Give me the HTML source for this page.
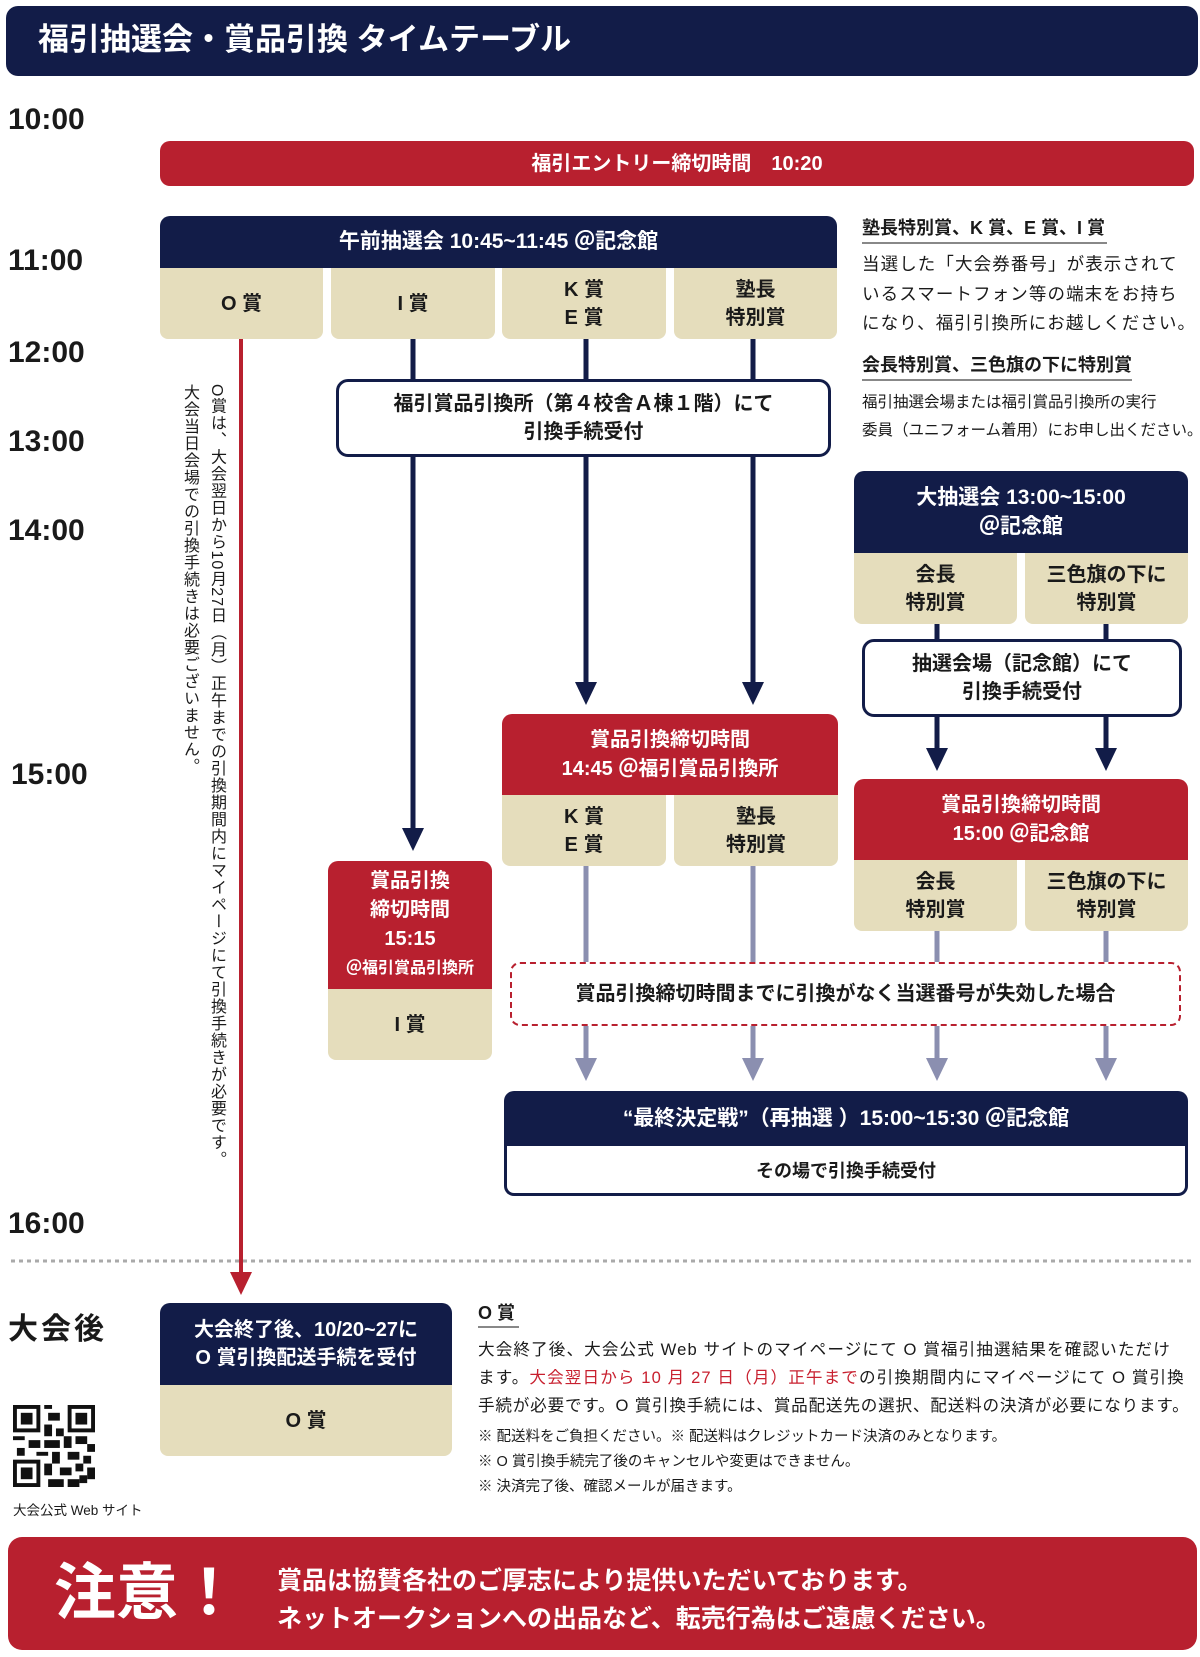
<!DOCTYPE html>
<html><head><meta charset="utf-8">
<style>
*{margin:0;padding:0;box-sizing:border-box}
body{width:1200px;height:1657px;position:relative;background:#fff;font-family:"Liberation Sans","Noto Sans CJK JP",sans-serif;color:#1a1a1a;overflow:hidden}
.a{position:absolute}
.nv{background:#121c48;color:#fff}
.rd{background:#b8202f;color:#fff}
.bg{background:#e5ddbc;color:#1a1a1a}
.c{display:flex;align-items:center;justify-content:center;text-align:center;font-weight:bold}
.t{font-weight:bold;font-size:30px;left:8px}
.h{font-size:20px;line-height:28px}
.nw{white-space:nowrap}
</style></head><body>
<div class="a nv" style="left:6px;top:6px;width:1192px;height:70px;border-radius:12px"></div>
<div class="a" style="left:38px;top:20px;font-size:31px;font-weight:bold;color:#fff;line-height:40px">福引抽選会・賞品引換 タイムテーブル</div>

<div class="a t" style="top:103px">10:00</div>
<div class="a t" style="top:244px">11:00</div>
<div class="a t" style="top:336px">12:00</div>
<div class="a t" style="top:425px">13:00</div>
<div class="a t" style="top:514px">14:00</div>
<div class="a t" style="top:758px;left:11px">15:00</div>
<div class="a t" style="top:1207px">16:00</div>
<div class="a t" style="top:1304px;letter-spacing:3px">大会後</div>

<div class="a rd c h" style="left:160px;top:141px;width:1034px;height:45px;border-radius:10px">福引エントリー締切時間　10:20</div>

<svg class="a" style="left:0;top:0" width="1200" height="1657">
<g stroke="#121c48" stroke-width="5" fill="#121c48">
<line x1="413" y1="339" x2="413" y2="830"/><polygon points="402,828 424,828 413,851" stroke="none"/>
<line x1="586" y1="339" x2="586" y2="684"/><polygon points="575,682 597,682 586,705" stroke="none"/>
<line x1="753" y1="339" x2="753" y2="684"/><polygon points="742,682 764,682 753,705" stroke="none"/>
<line x1="937" y1="624" x2="937" y2="750"/><polygon points="926,748 948,748 937,771" stroke="none"/>
<line x1="1106" y1="624" x2="1106" y2="750"/><polygon points="1095,748 1117,748 1106,771" stroke="none"/>
</g>
<g stroke="#8b8fb0" stroke-width="5" fill="#8b8fb0">
<line x1="586" y1="866" x2="586" y2="1060"/><polygon points="575,1058 597,1058 586,1081" stroke="none"/>
<line x1="753" y1="866" x2="753" y2="1060"/><polygon points="742,1058 764,1058 753,1081" stroke="none"/>
<line x1="937" y1="931" x2="937" y2="1060"/><polygon points="926,1058 948,1058 937,1081" stroke="none"/>
<line x1="1106" y1="931" x2="1106" y2="1060"/><polygon points="1095,1058 1117,1058 1106,1081" stroke="none"/>
</g>
<line x1="241" y1="339" x2="241" y2="1275" stroke="#b8202f" stroke-width="4"/>
<polygon points="230,1272 252,1272 241,1295" fill="#b8202f"/>
<line x1="11" y1="1261" x2="1192" y2="1261" stroke="#aaa" stroke-width="3" stroke-dasharray="4,4"/>
</svg>

<div class="a nv c h" style="left:160px;top:216px;width:677px;height:52px;border-radius:10px 10px 0 0;font-size:21px">午前抽選会 10:45~11:45 ＠記念館</div>
<div class="a bg c h" style="left:160px;top:268px;width:163px;height:71px;border-radius:0 0 8px 8px">O 賞</div>
<div class="a bg c h" style="left:331px;top:268px;width:164px;height:71px;border-radius:0 0 8px 8px">I 賞</div>
<div class="a bg c h" style="left:502px;top:268px;width:164px;height:71px;border-radius:0 0 8px 8px">K 賞<br>E 賞</div>
<div class="a bg c h" style="left:674px;top:268px;width:163px;height:71px;border-radius:0 0 8px 8px">塾長<br>特別賞</div>

<div class="a c h" style="left:336px;top:379px;width:495px;height:78px;border:3px solid #121c48;border-radius:12px;background:#fff">福引賞品引換所（第４校舎Ａ棟１階）にて<br>引換手続受付</div>

<div class="a" style="left:862px;top:215px;font-size:18px;font-weight:bold;line-height:27px;border-bottom:2px solid #888;padding-right:2px">塾長特別賞、K 賞、E 賞、I 賞</div>
<div class="a nw" style="left:862px;top:250px;font-size:17.5px;line-height:29.5px;letter-spacing:1.1px">当選した「大会券番号」が表示されて<br>いるスマートフォン等の端末をお持ち<br>になり、福引引換所にお越しください。</div>
<div class="a" style="left:862px;top:352px;font-size:18px;font-weight:bold;line-height:27px;border-bottom:2px solid #888">会長特別賞、三色旗の下に特別賞</div>
<div class="a nw" style="left:862px;top:389px;font-size:15.5px;line-height:28px;letter-spacing:0">福引抽選会場または福引賞品引換所の実行<br>委員（ユニフォーム着用）にお申し出ください。</div>

<div class="a nv c h" style="left:854px;top:471px;width:334px;height:82px;border-radius:10px 10px 0 0;font-size:21px;line-height:29px">大抽選会 13:00~15:00<br>＠記念館</div>
<div class="a bg c h" style="left:854px;top:553px;width:163px;height:71px;border-radius:0 0 8px 8px">会長<br>特別賞</div>
<div class="a bg c h" style="left:1025px;top:553px;width:163px;height:71px;border-radius:0 0 8px 8px">三色旗の下に<br>特別賞</div>
<div class="a c h" style="left:862px;top:639px;width:320px;height:78px;border:3px solid #121c48;border-radius:12px;background:#fff">抽選会場（記念館）にて<br>引換手続受付</div>

<div class="a rd c h" style="left:502px;top:714px;width:336px;height:81px;border-radius:10px 10px 0 0;line-height:29px">賞品引換締切時間<br>14:45 ＠福引賞品引換所</div>
<div class="a bg c h" style="left:502px;top:795px;width:164px;height:71px;border-radius:0 0 8px 8px">K 賞<br>E 賞</div>
<div class="a bg c h" style="left:674px;top:795px;width:164px;height:71px;border-radius:0 0 8px 8px">塾長<br>特別賞</div>

<div class="a rd c h" style="left:854px;top:779px;width:334px;height:81px;border-radius:10px 10px 0 0;line-height:29px">賞品引換締切時間<br>15:00 ＠記念館</div>
<div class="a bg c h" style="left:854px;top:860px;width:163px;height:71px;border-radius:0 0 8px 8px">会長<br>特別賞</div>
<div class="a bg c h" style="left:1025px;top:860px;width:163px;height:71px;border-radius:0 0 8px 8px">三色旗の下に<br>特別賞</div>

<div class="a rd c" style="left:328px;top:861px;width:164px;height:128px;border-radius:10px 10px 0 0;font-size:20px;line-height:29px;flex-direction:column">賞品引換<br>締切時間<br>15:15<span style="font-size:16px;line-height:30px">＠福引賞品引換所</span></div>
<div class="a bg c h" style="left:328px;top:989px;width:164px;height:71px;border-radius:0 0 8px 8px">I 賞</div>

<div class="a c h" style="left:510px;top:962px;width:671px;height:64px;border:2.5px dashed #b8202f;border-radius:10px;background:#fff">賞品引換締切時間までに引換がなく当選番号が失効した場合</div>

<div class="a nv c h" style="left:504px;top:1091px;width:684px;height:55px;border-radius:10px 10px 0 0;font-size:21px">“最終決定戦”（再抽選 ）15:00~15:30 ＠記念館</div>
<div class="a c" style="left:504px;top:1146px;width:684px;height:50px;border:3px solid #121c48;border-top:none;border-radius:0 0 10px 10px;font-size:18px">その場で引換手続受付</div>

<div class="a" style="left:176px;top:384px;height:800px;writing-mode:vertical-rl;font-size:16px;letter-spacing:1px;line-height:27px;color:#1a1a1a">O賞は、大会翌日から10月27日（月）正午までの引換期間内にマイページにて引換手続きが必要です。<br>大会当日会場での引換手続きは必要ございません。</div>

<div class="a nv c" style="left:160px;top:1303px;width:292px;height:82px;border-radius:10px 10px 0 0;font-size:20px;line-height:28px">大会終了後、10/20~27に<br>O 賞引換配送手続を受付</div>
<div class="a bg c h" style="left:160px;top:1385px;width:292px;height:71px;border-radius:0 0 8px 8px">O 賞</div>

<svg class="a" style="left:13px;top:1405px" width="82" height="82" viewBox="0 0 21 21">
<g fill="#111"><rect x="0" y="0" width="7" height="7"/><rect x="14" y="0" width="7" height="7"/><rect x="0" y="14" width="7" height="7"/></g>
<g fill="#fff"><rect x="1" y="1" width="5" height="5"/><rect x="15" y="1" width="5" height="5"/><rect x="1" y="15" width="5" height="5"/></g>
<g fill="#111"><rect x="2" y="2" width="3" height="3"/><rect x="16" y="2" width="3" height="3"/><rect x="2" y="16" width="3" height="3"/>
<rect x="8" y="0" width="2" height="1"/><rect x="9" y="2" width="3" height="2"/><rect x="8" y="5" width="2" height="3"/><rect x="11" y="6" width="2" height="2"/>
<rect x="0" y="8" width="3" height="1"/><rect x="4" y="9" width="3" height="2"/><rect x="8" y="9" width="4" height="2"/><rect x="13" y="8" width="2" height="3"/><rect x="16" y="8" width="3" height="2"/><rect x="19" y="10" width="2" height="2"/>
<rect x="1" y="11" width="2" height="2"/><rect x="6" y="12" width="3" height="1"/><rect x="10" y="12" width="2" height="3"/><rect x="14" y="12" width="3" height="2"/><rect x="18" y="13" width="2" height="2"/>
<rect x="8" y="15" width="2" height="3"/><rect x="12" y="16" width="3" height="2"/><rect x="16" y="15" width="2" height="2"/><rect x="19" y="16" width="2" height="3"/><rect x="9" y="19" width="4" height="2"/><rect x="14" y="19" width="3" height="2"/><rect x="17" y="18" width="2" height="2"/></g>
</svg>
<div class="a" style="left:13px;top:1501px;font-size:13.5px;line-height:20px">大会公式 Web サイト</div>

<div class="a" style="left:478px;top:1300px;font-size:18px;font-weight:bold;line-height:26px;border-bottom:2px solid #888;padding-right:4px">O 賞</div>
<div class="a nw" style="left:478px;top:1336px;font-size:16.6px;line-height:28px;letter-spacing:1.1px">大会終了後、大会公式 Web サイトのマイページにて O 賞福引抽選結果を確認いただけ<br>ます。<span style="color:#c8202f">大会翌日から 10 月 27 日（月）正午まで</span>の引換期間内にマイページにて O 賞引換<br><span style="letter-spacing:0.8px">手続が必要です。O 賞引換手続には、賞品配送先の選択、配送料の決済が必要になります。</span></div>
<div class="a" style="left:478px;top:1425px;font-size:14.5px;line-height:25px">※ 配送料をご負担ください。※ 配送料はクレジットカード決済のみとなります。<br>※ O 賞引換手続完了後のキャンセルや変更はできません。<br>※ 決済完了後、確認メールが届きます。</div>

<div class="a rd" style="left:8px;top:1537px;width:1189px;height:113px;border-radius:14px"></div>
<div class="a" style="left:54px;top:1556px;font-size:62px;font-weight:bold;color:#fff;line-height:76px">注意！</div>
<div class="a" style="left:277px;top:1562px;font-size:25px;font-weight:bold;color:#fff;line-height:38px">賞品は協賛各社のご厚志により提供いただいております。<br>ネットオークションへの出品など、転売行為はご遠慮ください。</div>
</body></html>
